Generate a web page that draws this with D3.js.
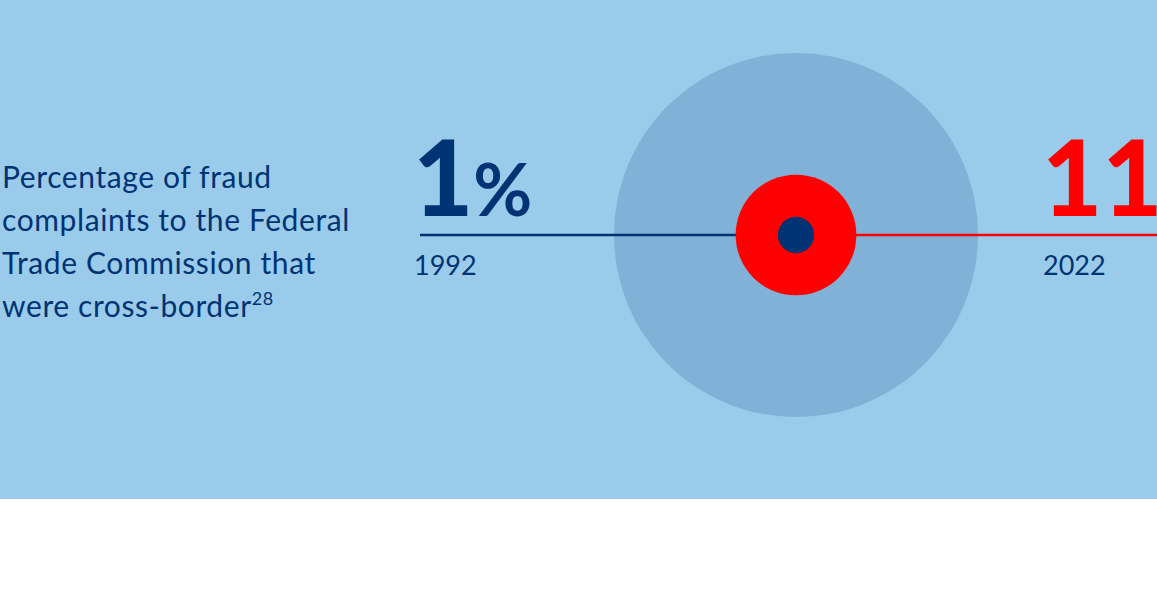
<!DOCTYPE html>
<html>
<head>
<meta charset="utf-8">
<script src="https://cdn.jsdelivr.net/npm/d3@7"></script>
<style>
  body { margin: 0; background: #fff; }
  svg { display: block; }
</style>
</head>
<body>
<script>
var years = ["1992", "2022"];
var shares = [1, 11];          // percent of complaints that were cross-border
var totalShare = 100;
var titleLines = ["Percentage of fraud", "complaints to the Federal", "Trade Commission that", "were cross-border"];
var footnote = "28";

var w = 1157,
    h = 589,
    bandH = 499,
    cx = 796,
    cy = 235;

var navy = "#003373",
    red = "#ff0000",
    font = "Lato, 'Source Sans Pro', sans-serif";

var rScale = d3.scaleSqrt()
  .domain([0, totalShare])
  .range([0, 182]);

var svg = d3.select("body")
  .append("svg")
  .attr("width", w)
  .attr("height", h);

svg.append("rect")
  .attr("width", w)
  .attr("height", bandH)
  .attr("fill", "#9acbea");

// the 100% circle
svg.append("circle")
  .attr("cx", cx)
  .attr("cy", cy)
  .attr("r", rScale(totalShare))
  .attr("fill", "#82b1d8");

// connecting lines
svg.append("line")
  .attr("x1", 420).attr("x2", cx)
  .attr("y1", cy).attr("y2", cy)
  .attr("stroke", navy)
  .attr("stroke-width", 2.5);

svg.append("line")
  .attr("x1", cx).attr("x2", w)
  .attr("y1", cy).attr("y2", cy)
  .attr("stroke", red)
  .attr("stroke-width", 2.5);

// bubbles, largest first
var colors = [navy, red];
var order = d3.range(shares.length).sort(function(a, b) { return shares[b] - shares[a]; });

svg.selectAll("circle.share")
  .data(order)
  .enter()
  .append("circle")
  .attr("class", "share")
  .attr("cx", cx)
  .attr("cy", cy)
  .attr("r", function(i) { return rScale(shares[i]); })
  .attr("fill", function(i) { return colors[i]; });

// value + year labels (the 2022 value runs off the right edge, as in the original)
var labelX = [413, 1042];

svg.selectAll("text.value")
  .data(shares)
  .enter()
  .append("text")
  .attr("class", "value")
  .attr("x", function(d, i) { return labelX[i]; })
  .attr("y", 216)
  .attr("font-family", font)
  .attr("font-weight", 900)
  .attr("fill", function(d, i) { return colors[i]; })
  .each(function(d) {
    var t = d3.select(this);
    t.append("tspan").attr("font-size", 104).text(d);
    t.append("tspan").attr("font-size", 72).attr("font-weight", 700).text("%");
  });

svg.selectAll("text.year")
  .data(years)
  .enter()
  .append("text")
  .attr("class", "year")
  .attr("x", function(d, i) { return labelX[i] + 1; })
  .attr("y", 275)
  .attr("font-family", font)
  .attr("font-size", 27)
  .attr("fill", navy)
  .text(function(d) { return d; });

// description
var desc = svg.append("text")
  .attr("font-family", font)
  .attr("font-size", 30)
  .attr("letter-spacing", 0.6)
  .attr("fill", navy);

titleLines.forEach(function(line, i) {
  desc.append("tspan")
    .attr("x", 2)
    .attr("y", 188 + i * 43)
    .text(line);
  if (i === titleLines.length - 1) {
    desc.append("tspan")
      .attr("font-size", 18)
      .attr("dy", -12)
      .text(footnote);
  }
});
</script>
</body>
</html>
